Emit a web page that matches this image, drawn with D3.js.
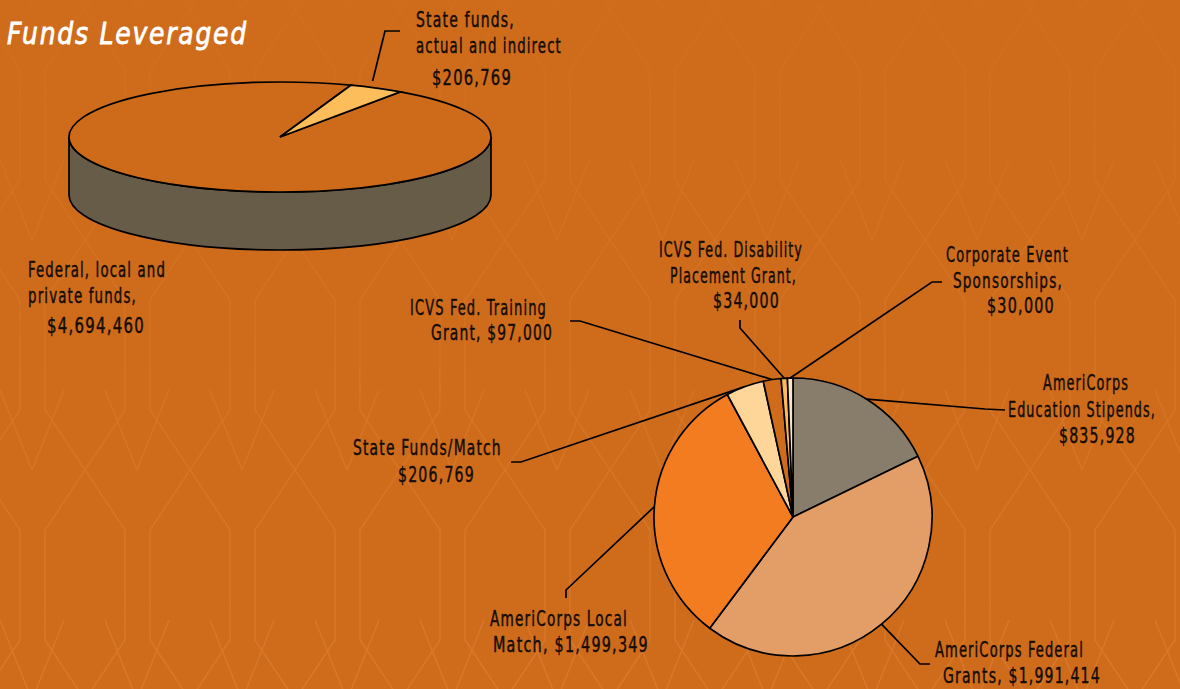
<!DOCTYPE html>
<html>
<head>
<meta charset="utf-8">
<script src="https://cdn.jsdelivr.net/npm/d3@7"></script>
<style>
  html, body { margin: 0; padding: 0; background: #cf6c1c; }
  svg { display: block; }
  .lbl { font-family: "Liberation Sans Narrow", "DejaVu Sans Condensed", "Arial Narrow", sans-serif; font-size: 21px; letter-spacing: 1.6px;
         fill: #140c05; stroke: #140c05; stroke-width: 0.45px; }
  .title { font-family: "Liberation Sans Narrow", "DejaVu Sans Condensed", sans-serif; font-style: italic; font-size: 31px; letter-spacing: 2px;
           fill: #fff; stroke: #fff; stroke-width: 0.8px; }
</style>
</head>
<body>
<svg id="chart"></svg>
<script>
// data
const bigCategories = ["Federal, local and private funds", "State funds, actual and indirect"];
const bigValues = [4694460, 206769];

const smallCategories = [
    "AmeriCorps Education Stipends",
    "AmeriCorps Federal Grants",
    "AmeriCorps Local Match",
    "State Funds/Match",
    "ICVS Fed. Training Grant",
    "ICVS Fed. Disability Placement Grant",
    "Corporate Event Sponsorships"
];
const smallValues = [835928, 1991414, 1499349, 206769, 97000, 34000, 30000];

// layout of labels (x, baseline, width per line) and leader line start points
const bigLayout = [
    { sep: ", ", wrap: [3, 2, 1], lines: [[28, 277, 138], [28, 303, 109], [47, 333, 98]], leader: null },
    { sep: " ", wrap: [2, 3, 1], lines: [[416, 27, 99], [416, 53, 146], [432, 85, 80]], leader: [[400, 31], [385, 31]] }
];
const smallLayout = [
    { sep: ", ", wrap: [1, 2, 1], lines: [[1043, 390, 86], [1008, 417, 148], [1059, 443, 77]], leader: [[1005, 410], [985, 409]] },
    { sep: ", ", wrap: [2, 2], lines: [[935, 657, 149], [943, 683, 158]], leader: [[930, 664], [920, 664]] },
    { sep: ", ", wrap: [2, 2], lines: [[490, 626, 138], [493, 652, 156]], leader: [[566, 598], [566, 590]] },
    { sep: " ", wrap: [2, 1], lines: [[353, 455, 149], [398, 482, 77]], leader: [[511, 462], [521, 462]] },
    { sep: ", ", wrap: [3, 2], lines: [[410, 315, 137], [431, 340, 122]], leader: [[570, 321], [580, 321]] },
    { sep: ", ", wrap: [3, 2, 1], lines: [[659, 257, 144], [670, 283, 127], [713, 308, 67]], leader: [[740, 320], [740, 328]] },
    { sep: ", ", wrap: [2, 1, 1], lines: [[946, 262, 123], [953, 288, 110], [987, 313, 68]], leader: [[942, 282], [932, 282]] }
];

const width = 1180, height = 689;
const money = d3.format("$,");

const svg = d3.select("#chart").attr("width", width).attr("height", height);

// background with faint pattern, fading out toward the top
const defs = svg.append("defs");
const pat = defs.append("pattern")
    .attr("id", "bgpat")
    .attr("patternUnits", "userSpaceOnUse")
    .attr("width", 105).attr("height", 230)
    .attr("x", -20).attr("y", 10);
pat.append("path")
    .attr("d", "M0,0 L40,60 L40,170 L0,230 M105,0 L65,60 L65,170 L105,230 M52,230 L20,150 M52,230 L84,150")
    .attr("fill", "none")
    .attr("stroke", "#d97c30")
    .attr("stroke-width", 1.4);
const grad = defs.append("linearGradient").attr("id", "fade").attr("x1", 0).attr("y1", 0).attr("x2", 0).attr("y2", 1);
grad.append("stop").attr("offset", "0").attr("stop-color", "#fff").attr("stop-opacity", 0.15);
grad.append("stop").attr("offset", "1").attr("stop-color", "#fff").attr("stop-opacity", 0.8);
defs.append("mask").attr("id", "fademask")
    .append("rect").attr("width", width).attr("height", height).attr("fill", "url(#fade)");
svg.append("rect").attr("width", width).attr("height", height).attr("fill", "#cf6c1c");
svg.append("rect").attr("width", width).attr("height", height).attr("fill", "url(#bgpat)").attr("mask", "url(#fademask)");

// squeeze a text horizontally so it spans the wanted width
function fitText(sel, x, y, w) {
    const natural = sel.node().getComputedTextLength();
    sel.attr("transform", `translate(${x},${y}) scale(${w / natural},1)`);
}

// title
const title = svg.append("text").attr("class", "title").text("Funds Leveraged");
fitText(title, 7, 44, 241);

function labelLines(text, wrap) {
    const words = text.split(" ");
    let i = 0;
    return wrap.map(n => { const s = words.slice(i, i + n).join(" "); i += n; return s; });
}

function drawLabel(g, text, layout) {
    const lines = labelLines(text, layout.wrap);
    g.selectAll(null)
        .data(lines)
        .enter()
        .append("text")
        .attr("class", "lbl")
        .text(d => d)
        .each(function (d, i) {
            const l = layout.lines[i];
            fitText(d3.select(this), l[0], l[1], l[2]);
        });
}

// ---- 3D pie (top left) ----
const cx = 280, cy = 137, rx = 211, ry = 55, depth = 58;
const startBig = 34.8 * Math.PI / 180;
const pieBig = d3.pie().sort(null).startAngle(startBig).endAngle(startBig + 2 * Math.PI);
const bigArcs = pieBig(bigValues);
const bigColors = d3.scaleOrdinal().domain(bigCategories).range(["#ce6b1b", "#fdbd5b"]);

const big = svg.append("g");
big.append("path")
    .attr("d", `M${cx + rx},${cy} A${rx},${ry} 0 0 1 ${cx - rx},${cy} L${cx - rx},${cy + depth} A${rx},${ry} 0 0 0 ${cx + rx},${cy + depth} Z`)
    .attr("fill", "#665c48")
    .attr("stroke", "#000")
    .attr("stroke-width", 1.7);

const bigArc = d3.arc().innerRadius(0).outerRadius(rx);
big.append("g")
    .attr("transform", `translate(${cx},${cy}) scale(1,${ry / rx})`)
    .selectAll("path")
    .data(bigArcs)
    .enter()
    .append("path")
    .attr("d", bigArc)
    .attr("fill", (d, i) => bigColors(bigCategories[i]))
    .attr("stroke", "#000")
    .attr("stroke-width", 1.7)
    .attr("vector-effect", "non-scaling-stroke");

bigArcs.forEach((a, i) => {
    const lay = bigLayout[i];
    drawLabel(svg, bigCategories[i] + lay.sep + money(bigValues[i]), lay);
    if (lay.leader) {
        const m = (a.startAngle + a.endAngle) / 2;
        const end = [cx + rx * Math.sin(m) * 0.96, cy - (ry + 8) * Math.cos(m)];
        svg.append("path")
            .attr("d", d3.line()(lay.leader.concat([end])))
            .attr("fill", "none").attr("stroke", "#000").attr("stroke-width", 1.7);
    }
});

// ---- flat pie (bottom right) ----
const pcx = 793, pcy = 517, r = 139;
const pieSmall = d3.pie().sort(null);
const smallArcs = pieSmall(smallValues);
const smallColors = d3.scaleOrdinal().domain(smallCategories)
    .range(["#877d6a", "#e39e68", "#f47c20", "#fed699", "#cf6c1c", "#fdb95a", "#fde2c6"]);

// leader lines go behind the pie
const leaders = svg.append("g");
smallArcs.forEach((a, i) => {
    const lay = smallLayout[i];
    const m = (a.startAngle + a.endAngle) / 2;
    const end = [pcx + r * Math.sin(m), pcy - r * Math.cos(m)];
    leaders.append("path")
        .attr("d", d3.line()(lay.leader.concat([end])))
        .attr("fill", "none").attr("stroke", "#000").attr("stroke-width", 1.7);
    drawLabel(svg, smallCategories[i] + lay.sep + money(smallValues[i]), lay);
});

const smallArc = d3.arc().innerRadius(0).outerRadius(r);
svg.append("g")
    .attr("transform", `translate(${pcx},${pcy})`)
    .selectAll("path")
    .data(smallArcs)
    .enter()
    .append("path")
    .attr("d", smallArc)
    .attr("fill", (d, i) => smallColors(smallCategories[i]))
    .attr("stroke", "#000")
    .attr("stroke-width", 1.7)
    .attr("stroke-linejoin", "round");
</script>
</body>
</html>
